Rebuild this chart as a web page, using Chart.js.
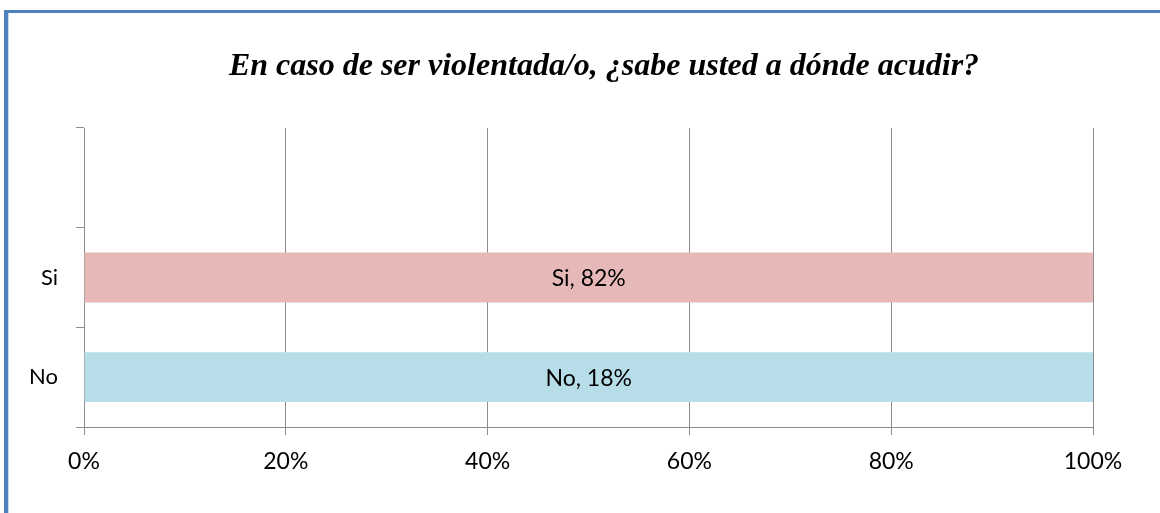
<!DOCTYPE html>
<html>
<head>
<meta charset="utf-8">
<script src="https://cdn.jsdelivr.net/npm/chart.js@4/dist/chart.umd.min.js"></script>
<style>
  html, body { margin: 0; padding: 0; background: #fff; }
  body { width: 1160px; height: 513px; position: relative; overflow: hidden; }
  .frame-top { position: absolute; left: 4px; top: 10px; width: 1160px; height: 3px; background: #4F81BD; }
  .frame-left { position: absolute; left: 4px; top: 10px; width: 4px; height: 520px; background: #4F81BD; }
  .frame-inner { position: absolute; left: 8px; top: 13px; width: 1px; height: 520px; background: #C6D9F1; }
  #chart { position: absolute; left: 0; top: 0; }
</style>
</head>
<body>
<div class="frame-top"></div>
<div class="frame-left"></div>
<div class="frame-inner"></div>
<canvas id="chart" width="1160" height="513"></canvas>
<script>
(() => {
// categories (top to bottom), first slot is empty in the original
const categories = ["", "Si", "No"];
const seriesNames = ["Si", "No"];
const siValues = [null, 82, null];
const noValues = [null, null, 18];
const xTicks = [0, 20, 40, 60, 80, 100];

const titleText = "En caso de ser violentada/o, ¿sabe usted a dónde acudir?";
const gridColor = "#8c8c8c";
const labelFont = "23px Lato";

// 100% stacked: each value as a share of its category total
const totals = categories.map((_, i) => (siValues[i] || 0) + (noValues[i] || 0));
const toPercent = arr => arr.map((v, i) => (v == null || !totals[i]) ? null : v / totals[i] * 100);

/* ===============================
   TITLE (centred on the whole frame, not the plot)
   =============================== */
const frameTitle = {
  id: "frameTitle",
  afterDraw(chart) {
    const { ctx } = chart;
    ctx.save();
    ctx.font = "italic bold 32px 'Liberation Serif', 'Times New Roman', serif";
    ctx.fillStyle = "#000";
    ctx.textAlign = "center";
    ctx.textBaseline = "middle";
    ctx.fillText(titleText, 604, 67);
    ctx.restore();
  }
};

/* ===============================
   DATA LABELS ("Si, 82%")
   =============================== */
const barLabels = {
  id: "barLabels",
  afterDatasetsDraw(chart) {
    const { ctx } = chart;
    ctx.save();
    ctx.font = labelFont;
    ctx.fillStyle = "#000";
    ctx.textAlign = "center";
    ctx.textBaseline = "middle";
    chart.data.datasets.forEach((ds, di) => {
      chart.getDatasetMeta(di).data.forEach((bar, i) => {
        const raw = ds.rawValues[i];
        if (raw == null) return;
        const p = bar.getCenterPoint();
        ctx.fillText(`${ds.label}, ${raw}%`, p.x, p.y + 1);
      });
    });
    ctx.restore();
  }
};

const ctx = document.getElementById("chart");

new Chart(ctx, {
  type: "bar",
  data: {
    labels: categories,
    datasets: [
      {
        label: seriesNames[0],
        data: toPercent(siValues),
        rawValues: siValues,
        backgroundColor: "#E6B9B8",
        borderWidth: 0,
        barPercentage: 0.5,
        categoryPercentage: 1,
      },
      {
        label: seriesNames[1],
        data: toPercent(noValues),
        rawValues: noValues,
        backgroundColor: "#B7DEE8",
        borderWidth: 0,
        barPercentage: 0.5,
        categoryPercentage: 1,
      },
    ],
  },
  options: {
    indexAxis: "y",
    responsive: false,
    maintainAspectRatio: false,
    animation: false,
    events: [],
    layout: { padding: { left: 0, right: 67, top: 128, bottom: 0 } },
    plugins: {
      legend: { display: false },
      tooltip: { enabled: false },
      title: { display: false },
    },
    scales: {
      x: {
        stacked: true,
        min: 0,
        max: 100,
        afterBuildTicks: axis => { axis.ticks = xTicks.map(v => ({ value: v })); },
        ticks: {
          callback: v => v + "%",
          color: "#000",
          font: { family: "Lato", size: 23 },
          padding: 13,
          maxRotation: 0,
        },
        grid: { color: gridColor, lineWidth: 1, tickLength: 8 },
        border: { color: gridColor, width: 1 },
        afterFit: axis => { axis.height = 86; },
      },
      y: {
        stacked: true,
        offset: true,
        ticks: {
          color: "#000",
          font: { family: "Lato", size: 22 },
          padding: 18,
        },
        grid: { offset: true, drawOnChartArea: false, color: gridColor, tickLength: 8 },
        border: { color: gridColor, width: 1 },
        afterFit: axis => { axis.width = 84; },
      },
    },
  },
  plugins: [barLabels, frameTitle],
});
})();
</script>
</body>
</html>
